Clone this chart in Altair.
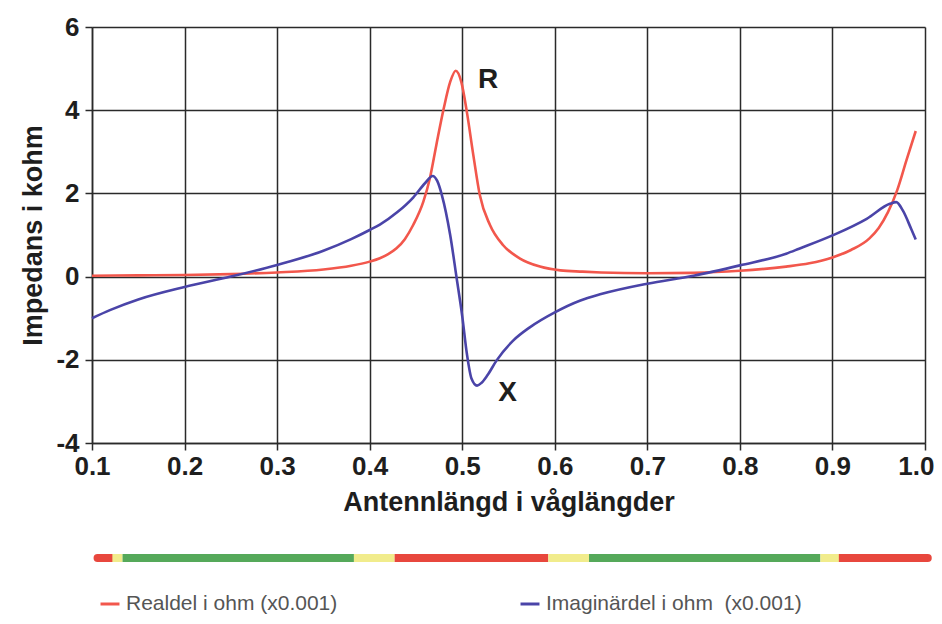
import altair as alt
import pandas as pd

# --- data ---
r_x = [0.10, 0.15, 0.20, 0.25, 0.30, 0.35, 0.38, 0.40, 0.411, 0.42, 0.429, 0.438,
       0.447, 0.458, 0.465, 0.472, 0.480, 0.487, 0.493, 0.499, 0.505, 0.512,
       0.519, 0.530, 0.544, 0.562, 0.584, 0.606, 0.63, 0.65, 0.70, 0.75, 0.80,
       0.85, 0.875, 0.90, 0.92, 0.94, 0.95, 0.96, 0.97, 0.98, 0.99]
r_y = [0.02, 0.03, 0.04, 0.06, 0.10, 0.17, 0.26, 0.36, 0.44, 0.54, 0.68, 0.9,
       1.24, 1.8, 2.36, 3.16, 4.04, 4.68, 4.95, 4.68, 3.96, 2.92,
       1.96, 1.24, 0.76, 0.44, 0.24, 0.15, 0.12, 0.10, 0.08, 0.09, 0.14,
       0.24, 0.32, 0.46, 0.64, 0.92, 1.17, 1.55, 2.08, 2.8, 3.5]

x_x = [0.10, 0.12, 0.15, 0.20, 0.25, 0.30, 0.35, 0.38, 0.40, 0.411, 0.43, 0.447,
       0.46, 0.468, 0.473, 0.478, 0.487, 0.494, 0.500, 0.505, 0.510, 0.516,
       0.521, 0.527, 0.537, 0.555, 0.573, 0.60, 0.627, 0.65, 0.70, 0.75, 0.80,
       0.85, 0.864, 0.90, 0.937, 0.962, 0.969, 0.976, 0.985, 0.99]
x_y = [-1.0, -0.8, -0.55, -0.25, 0.0, 0.28, 0.62, 0.9, 1.12, 1.25, 1.55, 1.9,
       2.25, 2.42, 2.3, 1.96, 1.0, -0.04, -0.95, -1.85, -2.45, -2.62,
       -2.55, -2.38, -2.02, -1.54, -1.22, -0.86, -0.58, -0.42, -0.17, 0.02, 0.27,
       0.55, 0.67, 0.99, 1.39, 1.75, 1.79, 1.59, 1.15, 0.89]

series_names = ["Realdel i ohm (x0.001)", "Imaginärdel i ohm\u00a0 (x0.001)"]
series_colors = ["#f2574c", "#4a44a8"]

bar_start = [0.106, 0.122, 0.133, 0.383, 0.427, 0.593, 0.637, 0.887, 0.907]
bar_end = [0.122, 0.133, 0.383, 0.427, 0.593, 0.637, 0.887, 0.907, 1.003]
bar_color = ["#e8473d", "#f1ec8c", "#55a95a", "#f1ec8c", "#e8473d",
             "#f1ec8c", "#55a95a", "#f1ec8c", "#e8473d"]

labels_text = ["R", "X"]
labels_x = [0.528, 0.549]
labels_y = [4.72, -2.8]

x_ticks = [0.1, 0.2, 0.3, 0.4, 0.5, 0.6, 0.7, 0.8, 0.9, 1.0]
y_ticks = [-4, -2, 0, 2, 4, 6]

# --- tables ---
lines = pd.DataFrame(
    {"x": r_x + x_x,
     "y": r_y + x_y,
     "serie": [series_names[0]] * len(r_x) + [series_names[1]] * len(x_x)}
)
bars = pd.DataFrame({"x": bar_start, "x2": bar_end, "c": bar_color,
                     "i": list(range(len(bar_start)))})
labs = pd.DataFrame({"t": labels_text, "x": labels_x, "y": labels_y})

FONT = "Liberation Sans"
INK = "#1e1e1e"

xscale = alt.Scale(domain=[0.1, 1.0], nice=False, zero=False)
yscale = alt.Scale(domain=[-4, 6], nice=False)

xaxis = alt.Axis(values=x_ticks, format=".1f", title="Antennlängd i våglängder",
                 labelFont=FONT, labelFontSize=26, labelFontWeight="bold", labelColor=INK,
                 titleFont=FONT, titleFontSize=27, titleFontWeight="bold", titleColor=INK,
                 labelPadding=3, titlePadding=10, tickSize=7, tickColor="#2a2a2a",
                 tickWidth=1.5, domainColor="#2a2a2a", domainWidth=1.5,
                 grid=True, gridColor="#2a2a2a", gridWidth=1.5, gridOpacity=1,
                 labelFlush=False,
                 labelAlign=alt.condition("datum.value >= 0.99", alt.value("right"), alt.value("center")),
                 labelOffset=alt.condition("datum.value >= 0.99", alt.value(9), alt.value(0)))
yaxis = alt.Axis(values=y_ticks, title="Impedans i kohm",
                 labelExpr="'' + datum.value",
                 labelFont=FONT, labelFontSize=26, labelFontWeight="bold", labelColor=INK,
                 titleFont=FONT, titleFontSize=27, titleFontWeight="bold", titleColor=INK,
                 labelPadding=6, titlePadding=8, tickSize=7, tickColor="#2a2a2a",
                 tickWidth=1.5, domainColor="#2a2a2a", domainWidth=1.5,
                 grid=True, gridColor="#2a2a2a", gridWidth=1.5, gridOpacity=1,
                 labelFlush=False)

line_layer = alt.Chart(lines).mark_line(strokeWidth=2.6, interpolate="monotone").encode(
    x=alt.X("x:Q", scale=xscale, axis=xaxis),
    y=alt.Y("y:Q", scale=yscale, axis=yaxis),
    color=alt.Color("serie:N",
                    scale=alt.Scale(domain=series_names, range=series_colors),
                    sort=series_names,
                    legend=alt.Legend(orient="none", legendX=7, legendY=566,
                                      direction="horizontal", title=None,
                                      symbolType="stroke", symbolSize=360,
                                      symbolStrokeWidth=3, labelFont=FONT,
                                      labelFontSize=21, labelColor="#555",
                                      labelOffset=5, columnPadding=176,
                                      labelLimit=400)),
    order=alt.Order("x:Q"),
)

bar_base = alt.Chart(bars).encode(
    x=alt.X("x:Q", scale=xscale),
    x2="x2:Q",
    y=alt.value(531),
    color=alt.Color("c:N", scale=None, legend=None),
)
bar_ends = bar_base.transform_filter(
    f"datum.i == 0 || datum.i == {len(bar_start) - 1}"
).mark_rule(strokeWidth=8, strokeCap="round")
bar_layer = bar_base.mark_rule(strokeWidth=8, strokeCap="butt")

text_layer = alt.Chart(labs).mark_text(font=FONT, fontSize=28, fontWeight="bold",
                                       color=INK, align="center",
                                       baseline="middle").encode(
    x=alt.X("x:Q", scale=xscale),
    y=alt.Y("y:Q", scale=yscale),
    text="t:N",
)

chart = alt.layer(line_layer, bar_ends, bar_layer, text_layer).resolve_scale(
    color="independent"
).properties(
    width=833, height=416,
    autosize=alt.AutoSizeParams(type="none"),
    padding={"left": 84, "top": 19, "right": 9, "bottom": 173},
    background="white",
).configure_view(stroke=None)

chart.save("out.html", embed_options={"renderer": "svg", "actions": False})
